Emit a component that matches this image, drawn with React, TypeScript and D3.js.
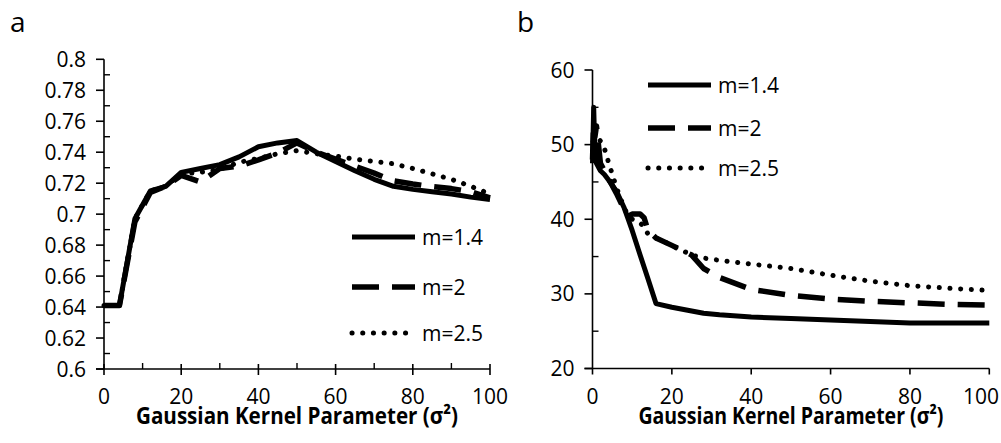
import React from "react";
import * as d3 from "d3";

// panel a
const sigmaA = [0, 4, 8, 12, 16, 20, 25, 30, 35, 40, 45, 50, 55, 60, 65, 70, 75, 80, 85, 90, 95, 100];
const aM14 = [0.641, 0.641, 0.697, 0.715, 0.718, 0.727, 0.7295, 0.732, 0.737, 0.7435, 0.746, 0.7475, 0.74, 0.734, 0.728, 0.7225, 0.718, 0.716, 0.7145, 0.713, 0.711, 0.7095];
const aM2 = [0.641, 0.641, 0.695, 0.714, 0.718, 0.725, 0.7208, 0.7295, 0.731, 0.735, 0.7395, 0.746, 0.74, 0.7355, 0.731, 0.7265, 0.7215, 0.7195, 0.7178, 0.7165, 0.7145, 0.7105];
const aM25 = [0.641, 0.641, 0.697, 0.715, 0.718, 0.726, 0.727, 0.729, 0.7335, 0.736, 0.739, 0.741, 0.739, 0.7375, 0.7355, 0.734, 0.7325, 0.7295, 0.726, 0.7225, 0.718, 0.713];

// panel b
const sigmaB = [0, 0.3, 0.6, 1, 2, 3, 4, 6, 8, 9, 10, 12, 13, 14, 16, 20, 25, 28, 32, 40, 50, 60, 70, 80, 90, 100];
const bM14 = [47.5, 55, 49, 47.5, 46.5, 46, 45.3, 43.8, 41.5, 40, 38.5, 35.2, 33.6, 32, 28.7, 28.2, 27.7, 27.4, 27.2, 26.9, 26.7, 26.5, 26.3, 26.1, 26.1, 26.1];
const bM2 = [48, 53, 51, 52.5, 47.5, 46.5, 45.5, 43.5, 41.3, 40.4, 40.7, 40.7, 40.2, 38.5, 37.5, 36.5, 35.2, 33.4, 32.2, 30.6, 29.8, 29.3, 29, 28.8, 28.6, 28.5];
const bM25 = [49, 52, 50.5, 51, 50.5, 49.5, 47.7, 44.3, 41.5, 40.5, 40, 39.5, 39, 38, 37.5, 36.5, 35.2, 34.8, 34.5, 34, 33.4, 32.5, 31.7, 31.1, 30.75, 30.45];

const seriesNames = ["m=1.4", "m=2", "m=2.5"];
const xMajor = [0, 20, 40, 60, 80, 100];
const xMinor = [10, 30, 50, 70, 90];
const aYMajor = [0.6, 0.62, 0.64, 0.66, 0.68, 0.7, 0.72, 0.74, 0.76, 0.78, 0.8];
const aYMinor = [0.61, 0.63, 0.65, 0.67, 0.69, 0.71, 0.73, 0.75, 0.77, 0.79];
const bYMajor = [20, 30, 40, 50, 60];
const bYMinor = [25, 35, 45, 55];
const xTitle = "Gaussian Kernel Parameter (σ²)";

const styles = [
  { width: 5, dash: null, cap: "butt" },
  { width: 5.5, dash: "27,13", cap: "butt" },
  { width: 5, dash: "0.1,10.6", cap: "round" },
];

const font = "'Open Sans', 'DejaVu Sans', sans-serif";

function Panel({ label, labelX, xs, series, yDomain, yMajor, yMinor, left, right, top, bottom, xMinorTicks, xCross, legend, titleLen, lastLabelEnd }) {
  const x = d3.scaleLinear().domain([0, 100]).range([left, right]);
  const y = d3.scaleLinear().domain(yDomain).range([bottom, top]);
  const line = d3.line().x((d) => x(d[0])).y((d) => y(d[1]));
  const fmt = (v) => String(+v.toFixed(2));

  return (
    <g>
      <text x={labelX} y={32} fontFamily={font} fontSize={28}>{label}</text>
      {/* axes */}
      <line x1={left} x2={left} y1={top} y2={bottom} stroke="#000" strokeWidth={1.6} />
      <line x1={left - 8} x2={right} y1={bottom} y2={bottom} stroke="#000" strokeWidth={1.6} />
      {yMajor.map((v) => (
        <g key={"ym" + v}>
          <line x1={left - 8} x2={left} y1={y(v)} y2={y(v)} stroke="#000" strokeWidth={1.6} />
          <text x={left - 18} y={y(v)} dy="0.36em" textAnchor="end" fontFamily={font} fontSize={21}>{fmt(v)}</text>
        </g>
      ))}
      {yMinor.map((v) => (
        <line key={"yn" + v} x1={left} x2={left + 6} y1={y(v)} y2={y(v)} stroke="#000" strokeWidth={1.4} />
      ))}
      {xMajor.map((v, i) => {
        const isLast = i === xMajor.length - 1 && lastLabelEnd;
        return (
          <g key={"xm" + v}>
            <line x1={x(v)} x2={x(v)} y1={bottom - (xCross ? 5 : 0)} y2={bottom + 6} stroke="#000" strokeWidth={1.6} />
            <text x={isLast ? lastLabelEnd : x(v)} y={396} dy="0.36em" textAnchor={isLast ? "end" : "middle"}
              fontFamily={font} fontSize={21}>{v}</text>
          </g>
        );
      })}
      {xMinorTicks && xMinor.map((v) => (
        <line key={"xn" + v} x1={x(v)} x2={x(v)} y1={bottom - 6} y2={bottom} stroke="#000" strokeWidth={1.4} />
      ))}
      <text x={(left + right) / 2} y={424} textAnchor="middle" fontFamily={font} fontWeight="bold" fontSize={24}
        textLength={titleLen} lengthAdjust="spacingAndGlyphs">{xTitle}</text>
      {/* series */}
      {series.map((vals, i) => (
        <path key={"s" + i} d={line(xs.map((s, j) => [s, vals[j]]))} fill="none" stroke="#000"
          strokeWidth={styles[i].width} strokeDasharray={styles[i].dash || undefined}
          strokeLinecap={styles[i].cap} strokeLinejoin="round" />
      ))}
      {/* legend */}
      {seriesNames.map((name, i) => (
        <g key={"lg" + i}>
          <line x1={legend.x} x2={legend.x + 63} y1={legend.ys[i]} y2={legend.ys[i]} stroke="#000"
            strokeWidth={styles[i].width} strokeDasharray={styles[i].dash || undefined} strokeLinecap={styles[i].cap} />
          <text x={legend.x + 70} y={legend.ys[i]} dy="0.36em" fontFamily={font} fontSize={21}>{name}</text>
        </g>
      ))}
    </g>
  );
}

export default function App() {
  return (
    <svg width={1001} height={443} style={{ position: "absolute", left: 0, top: 0, background: "#fff" }}>
      <Panel label="a" labelX={10} xs={sigmaA} series={[aM14, aM2, aM25]} yDomain={[0.6, 0.8]}
        yMajor={aYMajor} yMinor={aYMinor} left={104} right={490} top={59.3} bottom={369}
        xMinorTicks={true} xCross={true} legend={{ x: 352, ys: [237, 287, 333] }} titleLen={322} lastLabelEnd={null} />
      <Panel label="b" labelX={517} xs={sigmaB} series={[bM14, bM2, bM25]} yDomain={[20, 60]}
        yMajor={bYMajor} yMinor={bYMinor} left={592.5} right={989.3} top={70} bottom={368.5}
        xMinorTicks={false} xCross={false} legend={{ x: 648, ys: [85, 128, 168] }} titleLen={305} lastLabelEnd={999} />
    </svg>
  );
}
